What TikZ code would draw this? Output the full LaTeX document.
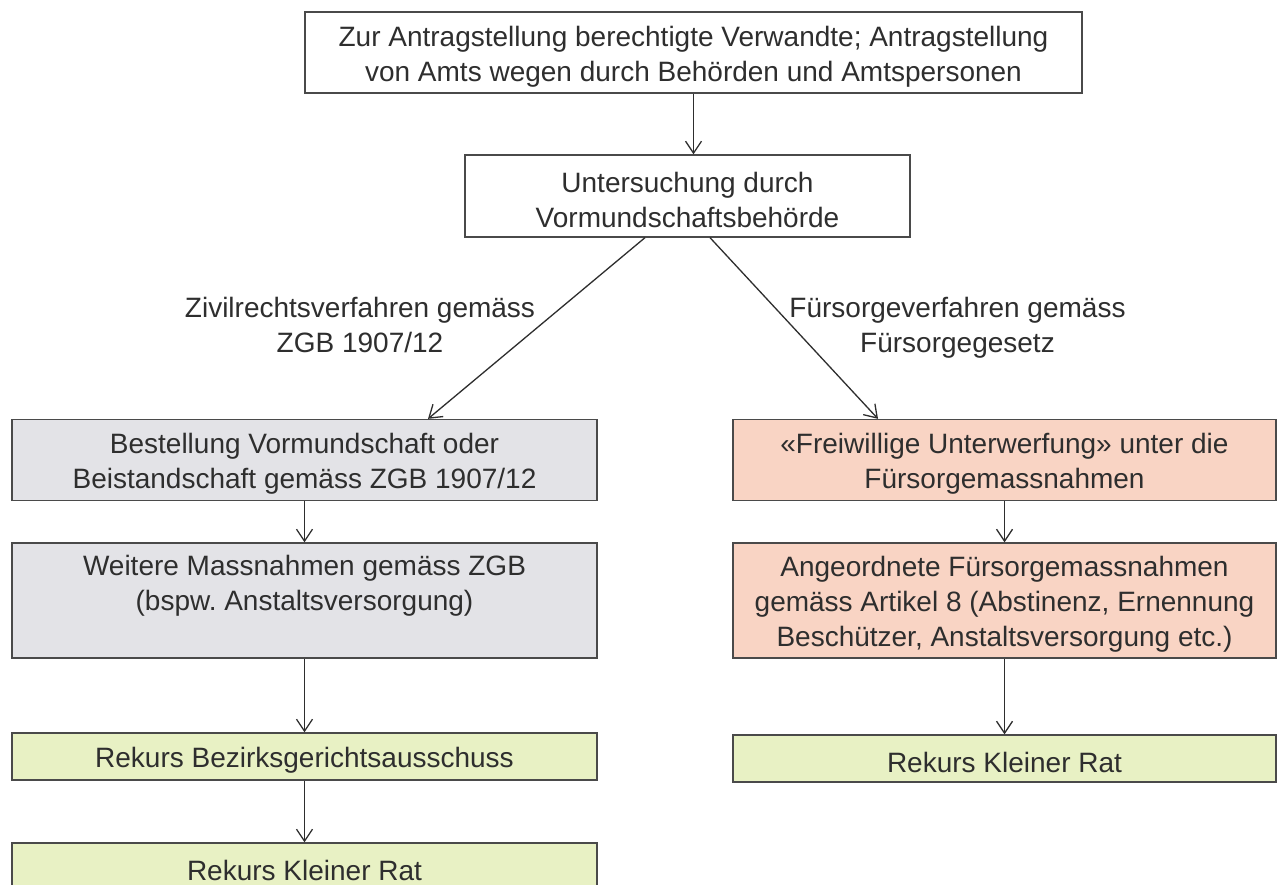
\documentclass[tikz,border=0pt]{standalone}
\usepackage{fontspec}
\setmainfont{Liberation Sans}
\usetikzlibrary{arrows.meta,calc}
\definecolor{txt}{HTML}{2E2E2E}
\definecolor{edge}{HTML}{4A4A4A}
\definecolor{grayfill}{HTML}{E3E3E7}
\definecolor{salmon}{HTML}{F9D4C4}
\definecolor{greenfill}{HTML}{E8F1C4}
\frenchspacing
\newcommand\tallstrut{\rule{0pt}{28.5pt}}
\tikzset{
  box/.style={draw=edge, line width=1.3pt, text=txt, align=center, inner sep=0pt,
    font=\fontsize{28}{35}\selectfont},
  whitebox/.style={box, fill=white},
  graybox/.style={box, fill=grayfill},
  redbox/.style={box, fill=salmon},
  greenbox/.style={box, fill=greenfill},
  conn/.style={draw=txt, line width=1.3pt, -{Straight Barb[length=12pt,width=16pt,line width=1.3pt]}},
  lbl/.style={text=txt, align=center, font=\fontsize{28}{35.5}\selectfont, inner sep=0pt}
}
\begin{document}
\begin{tikzpicture}[x=1pt,y=-1pt]
\useasboundingbox (0,0) rectangle (1279,885);
\clip (0,0) rectangle (1279,885);
\fill[white] (0,0) rectangle (1279,885);
\node[whitebox, minimum width=777pt, minimum height=81pt] (top) at (693.5,52.5)
  {\tallstrut Zur Antragstellung berechtigte Verwandte; Antragstellung\\von Amts wegen durch Behörden und Amtspersonen};
\node[whitebox, minimum width=445pt, minimum height=82pt] (unt) at (687.5,196)
  {\tallstrut Untersuchung durch\\Vormundschaftsbehörde};
\node[graybox, minimum width=585pt, minimum height=81pt] (L1) at (304.5,460)
  {\tallstrut Bestellung Vormundschaft oder\\Beistandschaft gemäss ZGB 1907/12};
\node[graybox, minimum width=585pt, minimum height=115pt] (L2) at (304.5,600.5)
  {\tallstrut Weitere Massnahmen gemäss ZGB\\(bspw. Anstaltsversorgung)\\[8pt]\mbox{}};
\node[greenbox, minimum width=585pt, minimum height=47pt] (L3) at (304.5,756.5)
  {\tallstrut Rekurs Bezirksgerichtsausschuss};
\node[greenbox, minimum width=585pt, minimum height=47pt] (L4) at (304.5,866.5)
  {\tallstrut Rekurs Kleiner Rat};
\node[redbox, minimum width=543pt, minimum height=81pt] (R1) at (1004.5,460)
  {\tallstrut «Freiwillige Unterwerfung» unter die\\Fürsorgemassnahmen};
\node[redbox, minimum width=543pt, minimum height=115pt] (R2) at (1004.5,600.5)
  {\tallstrut Angeordnete Fürsorgemassnahmen\\gemäss Artikel 8 (Abstinenz, Ernennung\\Beschützer, Anstaltsversorgung etc.)};
\node[greenbox, minimum width=543pt, minimum height=47pt] (R3) at (1004.5,758.5)
  {\tallstrut Rekurs Kleiner Rat};
\node[lbl] (lblL) at (360,321) {\tallstrut Zivilrechtsverfahren gemäss\\ZGB 1907/12};
\node[lbl] (lblR) at (957.5,323.5) {\tallstrut Fürsorgeverfahren gemäss\\Fürsorgegesetz};
\draw[conn] (top.south) -- (top.south |- unt.north);
\draw[conn] ([xshift=-42.5pt]unt.south) -- ([xshift=123.5pt]L1.north);
\draw[conn] ([xshift=22.5pt]unt.south) -- ([xshift=-126.5pt]R1.north);
\draw[conn] (L1) -- (L2);
\draw[conn] (L2) -- (L3);
\draw[conn] (L3) -- (L4);
\draw[conn] (R1) -- (R2);
\draw[conn] (R2) -- (R3);
\end{tikzpicture}
\end{document}
